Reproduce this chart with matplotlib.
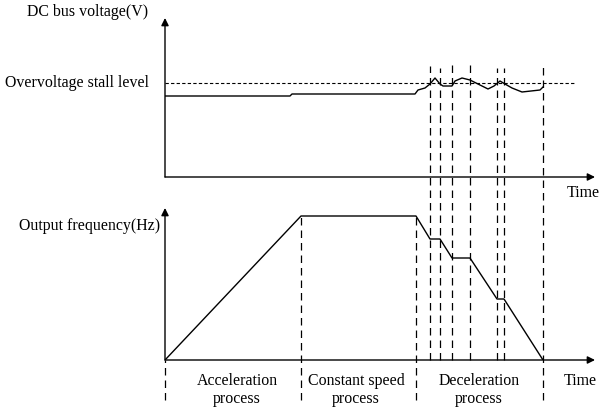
"""Overvoltage stall: DC bus voltage and output frequency versus time"""

import numpy as np
import matplotlib
matplotlib.use('Agg')
import matplotlib.pyplot as plt

plt.rcParams['font.family'] = ['Liberation Serif', 'DejaVu Serif']
plt.rcParams['font.size'] = 11.4

W, H = 600, 413

# time axis (arbitrary units)
v_time = [0, 125, 127, 250, 253, 260, 265, 270, 275, 278, 287, 290, 297,
          305, 315, 323, 329, 335, 340, 347, 357, 375, 378]
v_bus = [81, 81, 83, 83, 87, 89, 93, 99, 93, 91, 91, 96, 99,
         97, 92, 88, 91, 96, 93, 89, 85, 87, 90]
stall_level = 94

f_time = [0, 136, 251, 265, 275, 287, 305, 332, 339, 378]
f_out = [0, 144, 144, 121, 121, 102, 102, 61, 61, 0]

# event times marked with dashed lines, (time, bottom, top) in frequency units
events = [(0, -40, 0), (136, -40, 144), (251, -40, 144), (265, 0, 294),
          (275, 0, 292), (287, 0, 296), (305, 0, 296), (332, 0, 292),
          (339, 0, 292), (378, -40, 296)]
stage_labels = ['Acceleration\nprocess', 'Constant speed\nprocess',
                'Deceleration\nprocess']
stage_x = [237, 356, 479]

fig = plt.figure(figsize=(W / 100, H / 100), dpi=100, facecolor='white')


def px_axes(left, top, right, bottom):
    return fig.add_axes([left / W, 1 - bottom / H, (right - left) / W,
                         (bottom - top) / H])


ax1 = px_axes(165, 18, 595, 177)
ax2 = px_axes(165, 208, 595, 360)
ax1.set_xlim(0, 430)
ax1.set_ylim(0, 159)
ax2.set_xlim(0, 430)
ax2.set_ylim(0, 152)

for ax in (ax1, ax2):
    ax.set_axis_off()
    ax.annotate('', xy=(1, 0), xytext=(0, 0), xycoords='axes fraction',
                arrowprops=dict(arrowstyle='-|>', color='black', lw=1,
                                mutation_scale=11, shrinkA=0, shrinkB=0))
    ax.annotate('', xy=(0, 1), xytext=(0, 0), xycoords='axes fraction',
                arrowprops=dict(arrowstyle='-|>', color='black', lw=1,
                                mutation_scale=11, shrinkA=0, shrinkB=0))

ax1.plot([0, 410], [stall_level, stall_level], color='black', lw=0.8,
         ls=(0, (3, 2)))
ax1.plot(v_time, v_bus, color='black', lw=1)
ax2.plot(f_time, f_out, color='black', lw=1)

for t, lo, hi in events:
    ax2.plot([t, t], [lo, hi], color='black', lw=0.9, ls=(0, (6, 4)),
             clip_on=False)


def ftext(x, y, s, **kw):
    fig.text(x / W, 1 - y / H, s, va='center', **kw)


ftext(88, 12, 'DC bus voltage(V)', ha='center')
ftext(5, 83, 'Overvoltage stall level', ha='left')
ftext(160, 226, 'Output frequency(Hz)', ha='right')
ftext(583, 193, 'Time', ha='center')
ftext(580, 381, 'Time', ha='center')
for x, s in zip(stage_x, stage_labels):
    ftext(x, 390, s, ha='center', linespacing=1.2)

fig.savefig('out.png', dpi=100, facecolor='white')
